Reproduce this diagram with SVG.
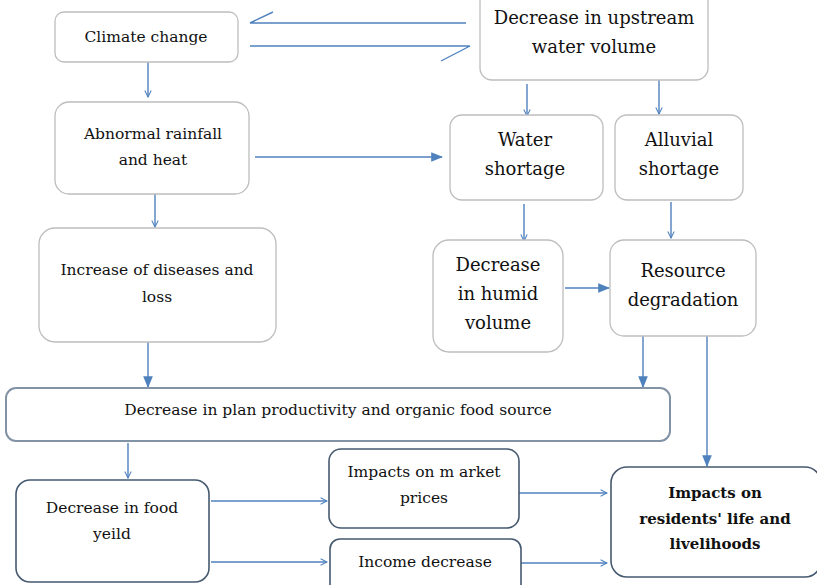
<svg xmlns="http://www.w3.org/2000/svg" width="817" height="585" viewBox="0 0 817 585">
<defs>
<marker id="open" viewBox="0 0 10 10" refX="9" refY="5" markerWidth="8" markerHeight="8" markerUnits="userSpaceOnUse" orient="auto"><path d="M1,1 L9,5 L1,9" fill="none" stroke="#4f81bd" stroke-width="1.3"/></marker>
<marker id="fill" viewBox="0 0 10 10" refX="9" refY="5" markerWidth="12" markerHeight="12" markerUnits="userSpaceOnUse" orient="auto"><path d="M0,1 L10,5 L0,9 Z" fill="#4f81bd"/></marker>
</defs>
<style>
.lt{fill:#fff;stroke:#bdbdbd;stroke-width:1.3}
.dk{fill:#fff;stroke:#46596f;stroke-width:1.6}
.md{fill:#fff;stroke:#8293a6;stroke-width:2}
text{font-family:"DejaVu Serif","Liberation Serif",serif;fill:#111;text-anchor:middle}
.s16{font-size:15.5px}
.s19{font-size:18px}
.b{font-weight:bold;font-size:15px}
.c{fill:none;stroke:#4f81bd;stroke-width:1.4}
.ca{marker-end:url(#open)}
.cf{marker-end:url(#fill)}
</style>
<rect width="817" height="585" fill="#fff"/>
<g id="connectors">
<path class="c" d="M466,23 H250 L273,12"/>
<path class="c" d="M250,46 H470 L441,61"/>
<path class="c ca" d="M148,62 V97"/>
<path class="c cf" d="M255,157 H442"/>
<path class="c ca" d="M155,194 V227"/>
<path class="c cf" d="M148,342 V387"/>
<path class="c ca" d="M527,84 V116"/>
<path class="c ca" d="M659,80 V114"/>
<path class="c ca" d="M524,204 V241"/>
<path class="c ca" d="M671,202 V238"/>
<path class="c cf" d="M565,288 H609"/>
<path class="c cf" d="M643,336 V387"/>
<path class="c cf" d="M707,336 V466"/>
<path class="c ca" d="M128,443 V478"/>
<path class="c ca" d="M211,501 H327"/>
<path class="c ca" d="M211,562 H327"/>
<path class="c ca" d="M519,493 H607"/>
<path class="c ca" d="M521,563 H607"/>
</g>
<g id="climate"><rect class="lt" x="55" y="12" width="183" height="50" rx="9"/><text class="s16" x="146" y="42">Climate change</text></g>
<g id="upstream"><rect class="lt" x="480" y="-10" width="228" height="90" rx="12"/><text class="s19" x="594" y="24">Decrease in upstream</text><text class="s19" x="594" y="53">water volume</text></g>
<g id="water"><rect class="lt" x="450" y="115" width="153" height="85" rx="12"/><text class="s19" x="525" y="146">Water</text><text class="s19" x="525" y="175">shortage</text></g>
<g id="alluvial"><rect class="lt" x="615" y="115" width="128" height="85" rx="12"/><text class="s19" x="679" y="146">Alluvial</text><text class="s19" x="679" y="175">shortage</text></g>
<g id="abnormal"><rect class="lt" x="55" y="102" width="194" height="92" rx="14"/><text class="s16" x="153" y="139">Abnormal rainfall</text><text class="s16" x="153" y="165">and heat</text></g>
<g id="diseases"><rect class="lt" x="39" y="228" width="237" height="114" rx="16"/><text class="s16" x="157" y="275">Increase of diseases and</text><text class="s16" x="157" y="302">loss</text></g>
<g id="humid"><rect class="lt" x="433" y="240" width="130" height="112" rx="16"/><text class="s19" x="498" y="271">Decrease</text><text class="s19" x="498" y="300">in humid</text><text class="s19" x="498" y="329">volume</text></g>
<g id="resource"><rect class="lt" x="610" y="240" width="146" height="96" rx="14"/><text class="s19" x="683" y="277">Resource</text><text class="s19" x="683" y="306">degradation</text></g>
<g id="plan"><rect class="md" x="6" y="388" width="664" height="53" rx="10"/><text class="s16" x="338" y="415">Decrease in plan productivity and organic food source</text></g>
<g id="food"><rect class="dk" x="16" y="480" width="193" height="102" rx="14"/><text class="s16" x="112" y="513">Decrease in food</text><text class="s16" x="112" y="539">yeild</text></g>
<g id="market"><rect class="dk" x="329" y="449" width="190" height="79" rx="12"/><text class="s16" x="424" y="477">Impacts on m arket</text><text class="s16" x="424" y="503">prices</text></g>
<g id="income"><rect class="dk" x="330" y="539" width="191" height="60" rx="10"/><text class="s16" x="425" y="567">Income decrease</text></g>
<g id="impacts"><rect class="dk" x="611" y="467" width="210" height="110" rx="16"/><text class="b" x="715" y="498">Impacts on</text><text class="b" x="715" y="524">residents' life and</text><text class="b" x="715" y="549">livelihoods</text></g>
</svg>
